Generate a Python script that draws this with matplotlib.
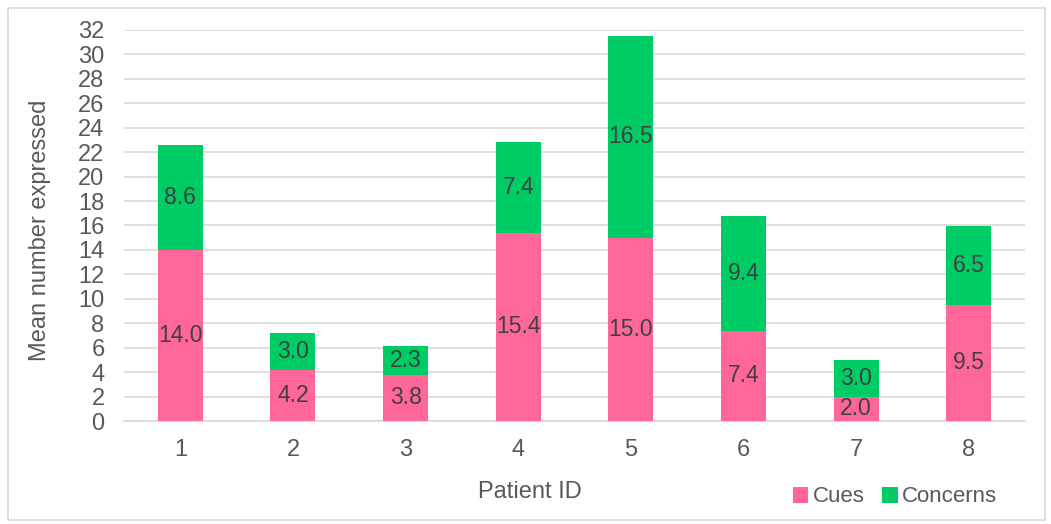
import matplotlib.pyplot as plt
from matplotlib.patches import Rectangle

plt.rcParams['font.family'] = ['Liberation Sans', 'DejaVu Sans']

# data
patients = ['1', '2', '3', '4', '5', '6', '7', '8']
cues = [14.0, 4.2, 3.8, 15.4, 15.0, 7.4, 2.0, 9.5]
concerns = [8.6, 3.0, 2.3, 7.4, 16.5, 9.4, 3.0, 6.5]

pink = '#FF6699'
green = '#00CC66'
txt = '#595959'

fig = plt.figure(figsize=(10.51, 5.24), dpi=100)
ax = fig.add_axes([124 / 1051, 1 - 421 / 524, (1025 - 124) / 1051, (421 - 30) / 524])

x = range(len(patients))
b1 = ax.bar(x, cues, width=0.4, color=pink, label='Cues', zorder=3)
b2 = ax.bar(x, concerns, width=0.4, bottom=cues, color=green, label='Concerns', zorder=3)

ax.bar_label(b1, labels=[f'{v:.1f}' for v in cues], label_type='center',
             fontsize=16.5, color='#404040')
ax.bar_label(b2, labels=[f'{v:.1f}' for v in concerns], label_type='center',
             fontsize=16.5, color='#404040')

ax.set_xlim(-0.5, len(patients) - 0.5)
ax.set_ylim(0, 32)
ax.set_yticks(range(0, 33, 2))
ax.set_xticks(list(x))
ax.set_xticklabels(patients)
ax.grid(axis='y', color='#d9d9d9', linewidth=1.2, zorder=0)
for s in ['top', 'right', 'left']:
    ax.spines[s].set_visible(False)
ax.spines['bottom'].set_color('#d9d9d9')
ax.spines['bottom'].set_linewidth(1.2)
ax.tick_params(length=0, labelsize=17, labelcolor=txt)
ax.tick_params(axis='x', pad=13)
ax.tick_params(axis='y', pad=14)

fig.text(530 / 1051, 1 - 492 / 524, 'Patient ID', ha='center', va='center',
         fontsize=17, color=txt)
fig.text(40 / 1051, 1 - 230 / 524, 'Mean number expressed', ha='center', va='center',
         rotation=90, fontsize=17, color=txt)

fig.legend(handles=[b1, b2], loc='center', bbox_to_anchor=(895 / 1051, 1 - 497 / 524),
           ncol=2, frameon=False, fontsize=16, handlelength=0.7, handleheight=0.7,
           handletextpad=0.2, columnspacing=0.8, labelcolor=txt)

fig.patches.append(Rectangle((8 / 1051, 4 / 524), 1037 / 1051, 512 / 524,
                             transform=fig.transFigure, fill=False,
                             edgecolor='#d9d9d9', linewidth=1.2))

fig.savefig('out.png', dpi=100)
